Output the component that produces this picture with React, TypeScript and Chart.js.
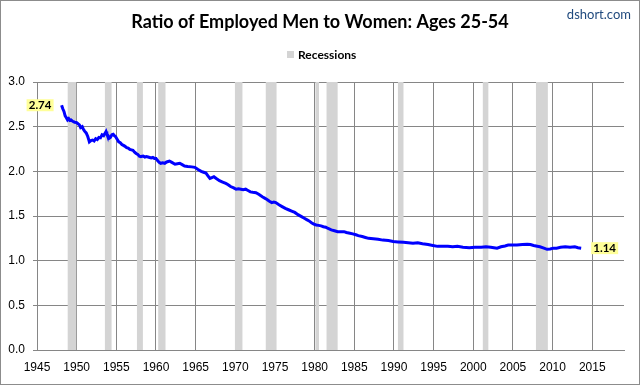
import React, { useEffect, useRef } from "react";
import { Chart, registerables } from "chart.js";

Chart.register(...registerables);

const TITLE = "Ratio of Employed Men to Women: Ages 25-54";
const SOURCE = "dshort.com";
const LEGEND_LABEL = "Recessions";

const years: number[] = [
  1948.1, 1948.25, 1948.4, 1948.55, 1948.7, 1948.85, 1949.0, 1949.15, 1949.3, 1949.5, 1949.75,
  1950.0, 1950.2, 1950.35, 1950.5, 1950.7, 1950.85, 1951.0, 1951.2, 1951.4, 1951.5, 1951.6, 1951.8,
  1952.0, 1952.2, 1952.4, 1952.6, 1952.8, 1953.0, 1953.2, 1953.4, 1953.6, 1953.7, 1953.8, 1953.95,
  1954.1, 1954.25, 1954.45, 1954.6, 1954.75, 1954.9, 1955.1, 1955.3, 1955.5, 1955.7, 1955.9,
  1956.1, 1956.3, 1956.5, 1956.7, 1956.9, 1957.1, 1957.3, 1957.5, 1957.7, 1957.9,
  1958.1, 1958.4, 1958.6, 1958.8, 1959.0, 1959.2, 1959.4, 1959.6, 1959.8,
  1960.0, 1960.2, 1960.4, 1960.6, 1960.85, 1961.1, 1961.35, 1961.7, 1962.0, 1962.4, 1962.7,
  1963.0, 1963.3, 1963.6, 1964.0, 1964.5, 1964.9, 1965.3, 1965.7, 1966.0, 1966.3, 1966.55, 1966.8,
  1967.05, 1967.3, 1967.6, 1968.0, 1968.4, 1968.8, 1969.1, 1969.4, 1969.8,
  1970.1, 1970.4, 1970.7, 1971.0, 1971.3, 1971.6, 1971.9, 1972.2, 1972.6, 1973.0, 1973.4, 1973.7,
  1974.0, 1974.3, 1974.6, 1974.85, 1975.1, 1975.5, 1975.9, 1976.3, 1976.7, 1977.1, 1977.5, 1977.9,
  1978.4, 1978.7, 1979.0, 1979.3, 1979.6, 1979.9, 1980.2, 1980.5, 1980.8, 1981.1, 1981.4, 1981.7,
  1982.1, 1982.5, 1982.9, 1983.3, 1983.7, 1984.0, 1984.3, 1984.8, 1985.2, 1985.5, 1986.0, 1986.4,
  1986.8, 1987.4, 1988.0, 1988.6, 1989.3, 1989.9, 1990.5, 1991.2, 1991.8, 1992.4, 1993.0, 1993.6,
  1994.3, 1994.9, 1995.5, 1996.2, 1996.8, 1997.4, 1998.0, 1998.7, 1999.5, 2000.2, 2001.0, 2001.6,
  2002.2, 2002.6, 2003.0, 2003.5, 2004.0, 2004.4, 2005.0, 2005.5, 2006.2, 2006.8, 2007.2, 2007.6,
  2007.9, 2008.4, 2008.9, 2009.3, 2009.7, 2010.1, 2010.5, 2011.0, 2011.6, 2012.2, 2012.8, 2013.2, 2013.6,
];

const ratio: number[] = [
  2.74, 2.7, 2.67, 2.62, 2.6, 2.575, 2.59, 2.57, 2.575, 2.56, 2.55,
  2.545, 2.53, 2.52, 2.49, 2.5, 2.47, 2.45, 2.43, 2.39, 2.36, 2.33, 2.345,
  2.35, 2.34, 2.365, 2.355, 2.38, 2.375, 2.41, 2.4, 2.43, 2.445, 2.42, 2.4,
  2.37, 2.38, 2.41, 2.415, 2.4, 2.39, 2.36, 2.33, 2.32, 2.3, 2.29,
  2.28, 2.265, 2.26, 2.245, 2.24, 2.235, 2.215, 2.2, 2.19, 2.17,
  2.165, 2.17, 2.16, 2.165, 2.16, 2.155, 2.15, 2.155, 2.145,
  2.145, 2.12, 2.1, 2.09, 2.095, 2.09, 2.105, 2.115, 2.1, 2.08, 2.085,
  2.09, 2.075, 2.06, 2.055, 2.05, 2.045, 2.02, 2.0, 1.99, 1.98, 1.95, 1.92,
  1.93, 1.94, 1.92, 1.895, 1.88, 1.865, 1.85, 1.83, 1.815,
  1.8, 1.805, 1.8, 1.795, 1.8, 1.785, 1.77, 1.765, 1.76, 1.74, 1.715, 1.7,
  1.685, 1.665, 1.65, 1.655, 1.65, 1.625, 1.605, 1.585, 1.57, 1.555, 1.54, 1.515,
  1.49, 1.475, 1.46, 1.445, 1.425, 1.41, 1.4, 1.395, 1.39, 1.38, 1.375, 1.36,
  1.345, 1.335, 1.325, 1.325, 1.325, 1.315, 1.31, 1.3, 1.29, 1.28, 1.27, 1.26,
  1.25, 1.245, 1.24, 1.23, 1.225, 1.215, 1.21, 1.205, 1.2, 1.195, 1.2, 1.19,
  1.18, 1.17, 1.16, 1.16, 1.16, 1.155, 1.16, 1.15, 1.145, 1.15, 1.15, 1.155,
  1.15, 1.145, 1.14, 1.155, 1.165, 1.175, 1.175, 1.175, 1.18, 1.185, 1.18, 1.17,
  1.165, 1.155, 1.14, 1.127, 1.13, 1.14, 1.14, 1.15, 1.155, 1.15, 1.155, 1.145, 1.14,
];

const recessionStart: number[] = [1948.87, 1953.56, 1957.6, 1960.28, 1969.95, 1973.84, 1980.1, 1981.5, 1990.5, 2001.2, 2007.9];
const recessionEnd: number[] = [1949.95, 1954.4, 1958.35, 1961.2, 1970.9, 1975.2, 1980.55, 1982.9, 1991.2, 2001.9, 2009.4];

const xTickMin = 1945;
const xAxisMax = 2019;
const xTickStep = 5;
const yTickMin = 0;
const yTickMax = 3;
const yTickStep = 0.5;

const GRID = "#868686";
const REC = "#D4D4D4";

const decorPlugin = {
  id: "decor",
  beforeDraw(chart: any) {
    const { ctx, width, height } = chart;
    ctx.save();
    ctx.fillStyle = "#ffffff";
    ctx.fillRect(0, 0, width, height);
    ctx.restore();
  },
  beforeDatasetsDraw(chart: any) {
    const { ctx, chartArea, scales } = chart;
    const xs = scales.x;
    ctx.save();
    ctx.fillStyle = REC;
    for (let i = 0; i < recessionStart.length; i++) {
      const x1 = xs.getPixelForValue(recessionStart[i]);
      const x2 = xs.getPixelForValue(recessionEnd[i]);
      ctx.fillRect(x1, chartArea.top, x2 - x1, chartArea.bottom - chartArea.top);
    }
    ctx.restore();
  },
  afterDraw(chart: any) {
    const { ctx, width, height, scales } = chart;
    const xs = scales.x;
    const ys = scales.y;
    ctx.save();
    // title
    ctx.fillStyle = "#000";
    ctx.font = "bold 18px Lato";
    ctx.textAlign = "center";
    ctx.textBaseline = "alphabetic";
    ctx.fillText(TITLE, 320, 28);
    // source
    ctx.fillStyle = "#1F497D";
    ctx.font = "13px Lato";
    ctx.textAlign = "right";
    ctx.fillText(SOURCE, 631, 19);
    // legend
    ctx.fillStyle = REC;
    ctx.fillRect(287, 51, 7, 7);
    ctx.fillStyle = "#000";
    ctx.font = "bold 12px Lato";
    ctx.textAlign = "left";
    ctx.fillText(LEGEND_LABEL, 298, 58.5);
    // value labels
    const drawLabel = (val: number, xv: number, side: "left" | "right") => {
      const px = xs.getPixelForValue(xv);
      const py = ys.getPixelForValue(val);
      const w = 27;
      const h = 12;
      const bx = side === "left" ? px - 8 - w : px + 10;
      ctx.fillStyle = "#FFFF99";
      ctx.fillRect(bx, py - h / 2, w, h);
      ctx.fillStyle = "#000";
      ctx.font = "bold 11.5px Lato";
      ctx.textAlign = "center";
      ctx.textBaseline = "middle";
      ctx.fillText(val.toFixed(2), bx + w / 2, py + 0.5);
    };
    drawLabel(ratio[0], years[0], "left");
    drawLabel(ratio[ratio.length - 1], years[years.length - 1], "right");
    // outer border
    ctx.strokeStyle = "#8C8C8C";
    ctx.lineWidth = 1;
    ctx.strokeRect(0.5, 0.5, width - 1, height - 1);
    ctx.restore();
  },
};

export default function App() {
  const ref = useRef<HTMLCanvasElement | null>(null);
  useEffect(() => {
    if (!ref.current) return;
    const chart = new Chart(ref.current, {
      type: "line",
      data: {
        datasets: [
          {
            label: "Ratio",
            data: years.map((x, i) => ({ x, y: ratio[i] })),
            borderColor: "#0000FF",
            backgroundColor: "#0000FF",
            borderWidth: 3,
            pointRadius: 0,
            tension: 0,
            fill: false,
          },
        ],
      },
      options: {
        animation: false,
        responsive: false,
        maintainAspectRatio: false,
        devicePixelRatio: 1,
        layout: { padding: { top: 82, right: 16, left: 0, bottom: 0 } },
        plugins: {
          legend: { display: false },
          title: { display: false },
          tooltip: { enabled: false },
        },
        scales: {
          x: {
            type: "linear",
            min: xTickMin,
            max: xAxisMax,
            afterFit: (s: any) => {
              s.height = 35;
            },
            ticks: {
              stepSize: xTickStep,
              includeBounds: false,
              autoSkip: false,
              maxRotation: 0,
              padding: 10,
              color: "#000",
              font: { family: "Liberation Sans", size: 12 },
              callback: (v: any) => String(v),
            },
            grid: { color: GRID, lineWidth: 1, drawTicks: false },
            border: { color: GRID, width: 1 },
          },
          y: {
            type: "linear",
            min: yTickMin,
            max: yTickMax,
            afterFit: (s: any) => {
              s.width = 37;
            },
            ticks: {
              stepSize: yTickStep,
              padding: 8,
              color: "#000",
              font: { family: "Liberation Sans", size: 12 },
              callback: (v: any) => Number(v).toFixed(1),
            },
            grid: { color: GRID, lineWidth: 1, tickLength: 4, drawTicks: true },
            border: { color: GRID, width: 1 },
          },
        },
      } as any,
      plugins: [decorPlugin],
    });
    return () => chart.destroy();
  }, []);
  return (
    <div style={{ position: "fixed", left: 0, top: 0, width: 640, height: 385 }}>
      <canvas ref={ref} width={640} height={385} style={{ display: "block" }} />
    </div>
  );
}
